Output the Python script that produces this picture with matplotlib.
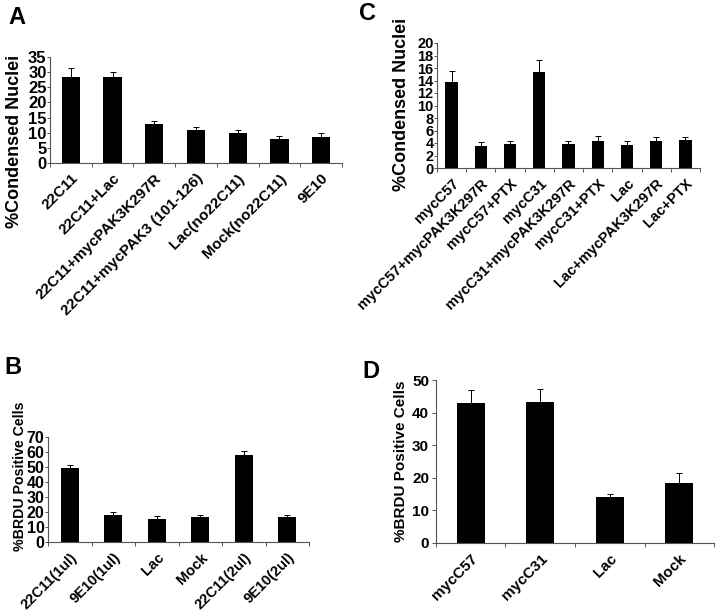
import matplotlib.pyplot as plt

plt.rcParams['font.family'] = ['Liberation Sans', 'DejaVu Sans']
plt.rcParams['font.weight'] = 'bold'

# Panel A
a_labels = ["22C11", "22C11+Lac", "22C11+mycPAK3K297R", "22C11+mycPAK3 (101-126)",
            "Lac(no22C11)", "Mock(no22C11)", "9E10"]
a_vals = [28.5, 28.4, 12.8, 10.8, 10.0, 7.8, 8.5]
a_err = [3.0, 1.8, 1.2, 1.2, 0.8, 1.0, 1.3]

# Panel B
b_labels = ["22C11(1ul)", "9E10(1ul)", "Lac", "Mock", "22C11(2ul)", "9E10(2ul)"]
b_vals = [49.5, 18.0, 15.5, 17.0, 58.0, 16.5]
b_err = [2.0, 1.8, 2.0, 1.0, 3.0, 1.5]

# Panel C
c_labels = ["mycC57", "mycC57+mycPAK3K297R", "mycC57+PTX", "mycC31",
            "mycC31+mycPAK3K297R", "mycC31+PTX", "Lac", "Lac+mycPAK3K297R", "Lac+PTX"]
c_vals = [13.8, 3.6, 3.9, 15.4, 3.9, 4.3, 3.7, 4.3, 4.5]
c_err = [1.7, 0.6, 0.5, 1.9, 0.5, 0.9, 0.6, 0.7, 0.5]

# Panel D
d_labels = ["mycC57", "mycC31", "Lac", "Mock"]
d_vals = [43.0, 43.2, 14.0, 18.3]
d_err = [4.0, 4.0, 1.0, 3.2]

W, H = 720, 611
fig = plt.figure(figsize=(7.2, 6.11), dpi=100)


def px_axes(left, right, y0, ytop):
    return fig.add_axes([left / W, (H - y0) / H, (right - left) / W, (y0 - ytop) / H])


def bar_panel(ax, labels, vals, err, ymax, ystep, width, tfs, xfs, tlen=2, tpad=0.5):
    x = list(range(len(vals)))
    ax.bar(x, vals, width=width, color='black')
    ax.errorbar(x, vals, yerr=[[0] * len(vals), err], fmt='none',
                ecolor='black', elinewidth=0.7, capsize=2, capthick=0.7)
    ax.set_xlim(-0.5, len(vals) - 0.5)
    ax.set_ylim(0, ymax)
    ax.set_yticks(range(0, ymax + 1, ystep))
    ax.tick_params(axis='y', labelsize=tfs, length=tlen, width=0.7, pad=tpad,
                   colors='#555555', labelcolor='black')
    ax.set_xticks(x)
    ax.set_xticklabels(labels, rotation=45, ha='right', rotation_mode='anchor',
                       fontsize=xfs, fontweight='bold')
    ax.set_xticks([i + 0.5 for i in range(-1, len(vals))], minor=True)
    ax.tick_params(axis='x', which='major', length=0, pad=6)
    ax.tick_params(axis='x', which='minor', length=3, width=0.7, colors='#555555')
    for s in ['top', 'right']:
        ax.spines[s].set_visible(False)
    for s in ['left', 'bottom']:
        ax.spines[s].set_color('#555555')
        ax.spines[s].set_linewidth(0.8)
    for t in ax.get_yticklabels():
        t.set_fontweight('bold')


axA = px_axes(50, 342, 163, 57)
bar_panel(axA, a_labels, a_vals, a_err, 35, 5, 0.44, 12, 11)
axB = px_axes(48, 309, 542, 437)
bar_panel(axB, b_labels, b_vals, b_err, 70, 10, 0.41, 11.5, 10.5)
axC = px_axes(437, 700, 168, 43)
bar_panel(axC, c_labels, c_vals, c_err, 20, 2, 0.42, 10.5, 10.5)
axD = px_axes(436, 714, 543, 380)
bar_panel(axD, d_labels, d_vals, d_err, 50, 10, 0.41, 11, 11, tlen=3, tpad=2)

# y labels
fig.text(15 / W, 1 - 141 / H, "%Condensed Nuclei", rotation=90, ha='center', va='center',
         fontsize=13, fontweight='bold')
fig.text(401 / W, 1 - 104 / H, "%Condensed Nuclei", rotation=90, ha='center', va='center',
         fontsize=13, fontweight='bold')
fig.text(20 / W, 1 - 476 / H, "%BRDU Positive Cells", rotation=90, ha='center', va='center',
         fontsize=10.2, fontweight='bold')
fig.text(401 / W, 1 - 461 / H, "%BRDU Positive Cells", rotation=90, ha='center', va='center',
         fontsize=11, fontweight='bold')

# panel letters
for lab, px, py in [("A", 17, 17), ("C", 367, 13), ("B", 13, 367), ("D", 371, 372)]:
    fig.text(px / W, 1 - py / H, lab, ha='center', va='center', fontsize=17, fontweight='bold')

fig.savefig("out.png", dpi=100)
